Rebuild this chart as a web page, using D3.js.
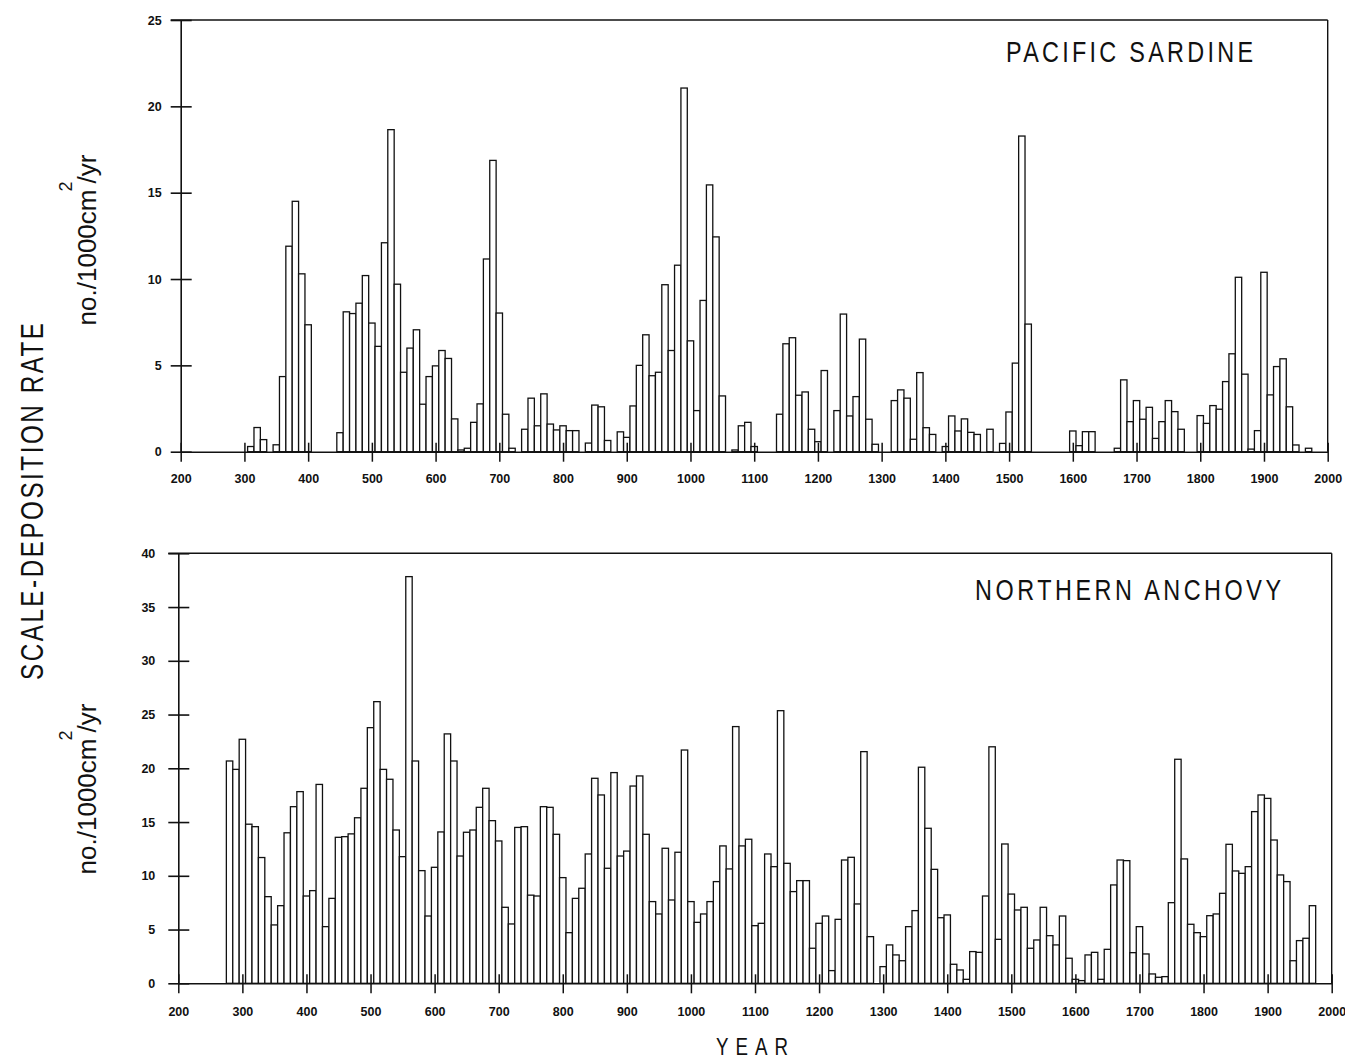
<!DOCTYPE html>
<html lang="en">
<head>
<meta charset="utf-8">
<script src="https://d3js.org/d3.v7.min.js"></script>
<style>
  body { margin: 0; background: #fff; }
  svg { display: block; }
</style>
</head>
<body>
<script>
// decade centres (year) and scale-deposition rates
var sardineYears = [
  310, 320, 330, 350, 360, 370, 380, 390, 400,
  450, 460, 470, 480, 490, 500, 510, 520, 530, 540,
  550, 560, 570, 580, 590, 600, 610, 620, 630, 640,
  650, 660, 670, 680, 690, 700, 710, 720,
  740, 750, 760, 770, 780, 790, 800, 810, 820,
  840, 850, 860, 870,
  890, 900, 910, 920, 930, 940, 950, 960, 970, 980,
  990, 1000, 1010, 1020, 1030, 1040, 1050,
  1070, 1080, 1090, 1100,
  1140, 1150, 1160, 1170, 1180, 1190, 1200, 1210,
  1230, 1240, 1250, 1260, 1270, 1280, 1290,
  1320, 1330, 1340, 1350, 1360, 1370, 1380,
  1400, 1410, 1420, 1430, 1440, 1450,
  1470,
  1490, 1500, 1510, 1520, 1530,
  1600, 1610, 1620, 1630,
  1670, 1680, 1690, 1700, 1710, 1720, 1730, 1740, 1750, 1760, 1770,
  1800, 1810, 1820, 1830, 1840, 1850, 1860, 1870, 1880, 1890,
  1900, 1910, 1920, 1930, 1940, 1950,
  1970
];
var sardineValues = [
  0.3, 1.4, 0.7, 0.4, 4.35, 11.9, 14.5, 10.3, 7.35,
  1.1, 8.1, 8.0, 8.6, 10.2, 7.45, 6.1, 12.1, 18.65, 9.7,
  4.6, 6.0, 7.06, 2.75, 4.35, 4.97, 5.86, 5.4, 1.9, 0.1,
  0.2, 1.7, 2.77, 11.16, 16.87, 8.03, 2.17, 0.2,
  1.3, 3.1, 1.5, 3.35, 1.6, 1.26, 1.5, 1.22, 1.22,
  0.5, 2.7, 2.6, 0.65,
  1.15, 0.83, 2.65, 5.0, 6.77, 4.4, 4.6, 9.67, 5.86, 10.8,
  21.06, 6.42, 2.38, 8.76, 15.45, 12.44, 3.23,
  0.1, 1.5, 1.7, 0.3,
  2.17, 6.25, 6.6, 3.27, 3.46, 1.3, 0.58, 4.7,
  2.38, 7.97, 2.07, 3.19, 6.52, 1.88, 0.43,
  2.96, 3.58, 3.1, 0.72, 4.58, 1.39, 1.0,
  0.3, 2.07, 1.2, 1.9, 1.12, 1.0,
  1.3,
  0.48, 2.3, 5.13, 18.28, 7.39,
  1.2, 0.35, 1.16, 1.16,
  0.2, 4.16, 1.74, 2.96, 1.88, 2.57, 0.77, 1.74, 2.96, 2.32, 1.3,
  2.09, 1.64, 2.67, 2.46, 4.06, 5.67, 10.1, 4.49, 0.15, 1.22,
  10.39, 3.29, 4.93, 5.38, 2.6, 0.39,
  0.2
];

var anchovyYears = [
  280, 290, 300, 310, 320, 330, 340, 350, 360, 370,
  380, 390, 400, 410, 420, 430, 440, 450, 460, 470,
  480, 490, 500, 510, 520, 530, 540, 550, 560, 570,
  580, 590, 600, 610, 620, 630, 640, 650, 660, 670,
  680, 690, 700, 710, 720, 730, 740, 750, 760, 770,
  780, 790, 800, 810, 820, 830, 840, 850, 860, 870,
  880, 890, 900, 910, 920, 930, 940, 950, 960, 970,
  980, 990, 1000, 1010, 1020, 1030, 1040, 1050, 1060, 1070,
  1080, 1090, 1100, 1110, 1120, 1130, 1140, 1150, 1160, 1170,
  1180, 1190, 1200, 1210, 1220, 1230, 1240, 1250, 1260, 1270,
  1280, 1290, 1300, 1310, 1320, 1330, 1340, 1350, 1360, 1370,
  1380, 1390, 1400, 1410, 1420, 1430, 1440, 1450, 1460, 1470,
  1480, 1490, 1500, 1510, 1520, 1530, 1540, 1550, 1560, 1570,
  1580, 1590, 1600, 1610, 1620, 1630, 1640, 1650, 1660, 1670,
  1680, 1690, 1700, 1710, 1720, 1730, 1740, 1750, 1760, 1770,
  1780, 1790, 1800, 1810, 1820, 1830, 1840, 1850, 1860, 1870,
  1880, 1890, 1900, 1910, 1920, 1930, 1940, 1950, 1960, 1970
];
var anchovyValues = [
  20.68, 19.9, 22.7, 14.8, 14.57, 11.7, 8.06, 5.43, 7.22, 14.0,
  16.43, 17.83, 8.12, 8.62, 18.5, 5.27, 7.9, 13.58, 13.64, 13.9,
  15.4, 18.14, 23.78, 26.2, 19.9, 18.98, 14.26, 11.78, 37.83, 20.68,
  10.48, 6.26, 10.79, 14.08, 23.2, 20.68, 11.84, 14.05, 14.26, 16.37,
  18.14, 15.13, 13.24, 7.07, 5.52, 14.5, 14.57, 8.2, 8.12, 16.43,
  16.37, 13.86, 9.83, 4.71, 7.9, 8.84, 12.03, 19.07, 17.52, 10.7,
  19.6, 11.84, 12.3, 18.35, 19.29, 13.86, 7.6, 6.45, 12.56, 7.75,
  12.19, 21.7, 7.6, 5.67, 6.45, 7.6, 9.46, 12.78, 10.64, 23.88,
  12.78, 13.4, 5.36, 5.58, 12.03, 10.85, 25.36, 11.16, 8.53, 9.55,
  9.55, 3.26, 5.58, 6.26, 1.18, 5.95, 11.47, 11.72, 7.38, 21.55,
  4.34, 0, 1.55, 3.57, 2.64, 2.1, 5.27, 6.76, 20.1, 14.42,
  10.6, 6.1, 6.36, 1.77, 1.24, 0.37, 2.95, 2.88, 8.12, 22.0,
  4.09, 12.96, 8.3, 6.82, 7.07, 3.26, 4.03, 7.07, 4.43, 3.57,
  6.26, 2.33, 0.37, 0.25, 2.64, 2.88, 0.37, 3.16, 9.15, 11.47,
  11.41, 2.85, 5.27, 2.73, 0.87, 0.56, 0.62, 7.5, 20.84, 11.57,
  5.49, 4.71, 4.34, 6.29, 6.45, 8.37, 12.93, 10.45, 10.23, 10.85,
  15.97, 17.52, 17.2, 13.33, 10.08, 9.46, 2.1, 3.97, 4.19, 7.22
];

var yearTicks = [200, 300, 400, 500, 600, 700, 800, 900, 1000, 1100,
                 1200, 1300, 1400, 1500, 1600, 1700, 1800, 1900, 2000];
var sardineTicks = [0, 5, 10, 15, 20, 25];
var anchovyTicks = [0, 5, 10, 15, 20, 25, 30, 35, 40];

var width = 1345, height = 1062;
var ink = "#111";

var svg = d3.select("body").append("svg")
            .attr("width", width)
            .attr("height", height);

svg.append("rect")
   .attr("width", width).attr("height", height)
   .attr("fill", "#fff");

// narrow plotter style lettering: squeeze the glyphs, then spread to the wanted length
function plotterText(x, y, str, size, len, rotated) {
        var squeeze = 0.78;
        var g = svg.append("g")
                   .attr("transform", "translate(" + x + "," + y + ")" +
                         (rotated ? " rotate(-90)" : "") + " scale(" + squeeze + ",1)");
        g.append("text")
         .attr("x", 0).attr("y", 0)
         .attr("font-family", "'Liberation Sans', Arial, sans-serif")
         .attr("font-size", size)
         .attr("fill", ink)
         .attr("textLength", len / squeeze)
         .attr("lengthAdjust", "spacing")
         .text(str);
}

function panel(p) {
        var x = d3.scaleLinear().domain([200, 2000]).range([p.left, p.right]);
        var y = d3.scaleLinear().domain([0, p.yMax]).range([p.bottom, p.top]);

        var g = svg.append("g");

        // bars, one per decade
        var data = p.years.map(function(yr, i) { return {year: yr, value: p.values[i]}; })
                          .filter(function(d) { return d.value > 0; });

        g.selectAll("rect.bar")
         .data(data)
         .enter().append("rect")
         .attr("class", "bar")
         .attr("x", function(d) { return x(d.year - 5); })
         .attr("width", function(d) { return x(d.year + 5) - x(d.year - 5); })
         .attr("y", function(d) { return y(d.value); })
         .attr("height", function(d) { return y(0) - y(d.value); })
         .attr("fill", "#fff")
         .attr("stroke", ink)
         .attr("stroke-width", 1.3);

        // frame: top and right
        g.append("line")
         .attr("x1", x(200) - 10).attr("x2", x(2000))
         .attr("y1", y(p.yMax)).attr("y2", y(p.yMax))
         .attr("stroke", ink).attr("stroke-width", 1.6);
        g.append("line")
         .attr("x1", x(2000)).attr("x2", x(2000))
         .attr("y1", y(p.yMax)).attr("y2", y(0))
         .attr("stroke", ink).attr("stroke-width", 1.4);

        // x axis
        var xa = g.append("g")
                  .attr("transform", "translate(0," + y(0) + ")")
                  .call(d3.axisBottom(x).tickValues(yearTicks).tickSize(10)
                          .tickSizeOuter(0).tickPadding(p.xPad).tickFormat(d3.format("d")));
        xa.selectAll(".tick line").attr("y1", -9).attr("stroke", ink).attr("stroke-width", 1.5);

        // y axis
        var ya = g.append("g")
                  .attr("transform", "translate(" + x(200) + ",0)")
                  .call(d3.axisLeft(y).tickValues(p.yTicks).tickSize(10)
                          .tickSizeOuter(0).tickPadding(p.yPad));
        ya.selectAll(".tick line").attr("x1", 11).attr("stroke", ink).attr("stroke-width", 1.6);

        [xa, ya].forEach(function(a) {
                a.select(".domain").attr("stroke", ink).attr("stroke-width", 1.6);
                a.selectAll("text")
                 .attr("font-family", "'Liberation Sans', Arial, sans-serif")
                 .attr("font-weight", "bold")
                 .attr("font-size", 12.5)
                 .attr("fill", ink);
        });

        // unit label
        var ut = svg.append("text")
                    .attr("transform", "translate(" + p.unitX + "," + p.unitY + ") rotate(-90)")
                    .attr("text-anchor", "middle")
                    .attr("font-family", "'Liberation Sans', Arial, sans-serif")
                    .attr("font-size", 26)
                    .attr("fill", ink);
        ut.append("tspan").text("no./1000cm");
        ut.append("tspan").attr("font-size", 18).attr("dx", -2).attr("dy", -24).text("2");
        ut.append("tspan").attr("dx", -2).attr("dy", 24).text("/yr");

        plotterText(p.titleX, p.titleY, p.title, 30, p.titleLen, false);
}

panel({
        years: sardineYears, values: sardineValues, yMax: 25, yTicks: sardineTicks,
        left: 180.7, right: 1327.7, top: 20, bottom: 451.7,
        xPad: 12, yPad: 9,
        unitX: 96, unitY: 240,
        title: "PACIFIC SARDINE", titleX: 1006, titleY: 62, titleLen: 247
});

panel({
        years: anchovyYears, values: anchovyValues, yMax: 40, yTicks: anchovyTicks,
        left: 178.3, right: 1331.7, top: 553.3, bottom: 983.3,
        xPad: 14, yPad: 13,
        unitX: 96, unitY: 789,
        title: "NORTHERN  ANCHOVY", titleX: 975, titleY: 600, titleLen: 306
});

// shared axis titles
plotterText(43, 680, "SCALE-DEPOSITION RATE", 31, 357, true);
plotterText(716, 1055, "YEAR", 24, 72, false);
</script>
</body>
</html>
